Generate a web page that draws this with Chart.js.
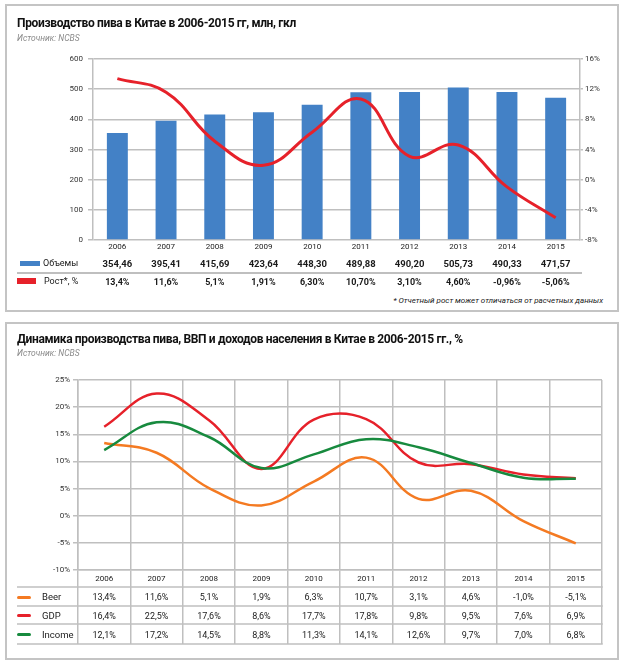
<!DOCTYPE html>
<html><head><meta charset="utf-8">
<script src="https://cdn.jsdelivr.net/npm/chart.js@4.4.1/dist/chart.umd.min.js"></script>
<style>
html,body{margin:0;padding:0;background:#fff;}
body{width:627px;height:668px;position:relative;overflow:hidden;font-family:Roboto,'Noto Sans',sans-serif;color:#1a1a1a;}
.panel{position:absolute;border:2px solid #c4c4c4;box-sizing:border-box;}
.t{position:absolute;white-space:nowrap;line-height:1;z-index:2;}
.title{font-weight:bold;font-size:12px;letter-spacing:-0.35px;color:#111;}
.src{font-style:italic;font-size:8.5px;color:#8a8a8a;}
.val{font-size:9px;color:#1a1a1a;}
.b{font-weight:bold;}
.lab{font-size:9px;color:#1a1a1a;}
.sw{position:absolute;z-index:2;}
canvas{position:absolute;left:0;}
</style></head><body>
<div class="panel" style="left:5px;top:4px;width:614px;height:308px"></div>
<div class="panel" style="left:5px;top:322px;width:614px;height:338px"></div>
<canvas id="c1" width="627" height="290" style="top:0px"></canvas>
<canvas id="c2" width="627" height="320" style="top:330px"></canvas>
<script>
// ---- data ----
const years = ['2006','2007','2008','2009','2010','2011','2012','2013','2014','2015'];
const volumes = [354.46, 395.41, 415.69, 423.64, 448.30, 489.88, 490.20, 505.73, 490.33, 471.57];
const growth = [13.4, 11.6, 5.1, 1.91, 6.30, 10.70, 3.10, 4.60, -0.96, -5.06];
const growthDecimals = [1, 1, 1, 2, 2, 2, 2, 2, 2, 2];
const beer = [13.4, 11.6, 5.1, 1.9, 6.3, 10.7, 3.1, 4.6, -1.0, -5.1];
const gdp = [16.4, 22.5, 17.6, 8.6, 17.7, 17.8, 9.8, 9.5, 7.6, 6.9];
const income = [12.1, 17.2, 14.5, 8.8, 11.3, 14.1, 12.6, 9.7, 7.0, 6.8];

const C_BLUE = '#4381c6', C_RED = '#e6212a', C_ORANGE = '#f47a22', C_GREEN = '#178a3e', C_GRID = '#bfbfbf';

Chart.defaults.font.family = 'Roboto, "Noto Sans", sans-serif';
Chart.defaults.font.size = 8;
Chart.defaults.color = '#333';

function text(str, x, y, cls, align, extraStyle) {
  const d = document.createElement('div');
  d.className = 't ' + (cls || '');
  d.textContent = str;
  const tx = align === 'center' ? '-50%' : (align === 'right' ? '-100%' : '0');
  d.style.left = x + 'px';
  d.style.top = y + 'px';
  d.style.transform = 'translate(' + tx + ',-50%)';
  if (extraStyle) d.style.cssText += extraStyle;
  document.body.appendChild(d);
  return d;
}
function swatch(x, y, w, h, color, radius) {
  const d = document.createElement('div');
  d.className = 'sw';
  d.style.cssText += `left:${x}px;top:${y - h / 2}px;width:${w}px;height:${h}px;background:${color};border-radius:${radius || 0}px;`;
  document.body.appendChild(d);
}
const fmt = (v, d) => v.toFixed(d).replace('.', ',');

// titles
text('Производство пива в Китае в 2006-2015 гг, млн, гкл', 17, 23, 'title', 'left');
text('Источник: NCBS', 17, 38, 'src', 'left');
text('Динамика производства пива, ВВП и доходов населения в Китае в 2006-2015 гг., %', 17, 339, 'title', 'left');
text('Источник: NCBS', 17, 353, 'src', 'left');
text('* Отчетный рост может отличаться от расчетных данных', 603, 301, 'src', 'right', 'color:#222;font-size:8px;');

// ---- chart 1 ----
const sepPlugin = {
  id: 'sep1',
  afterDraw(chart) {
    const { ctx, chartArea: a } = chart;
    ctx.save();
    ctx.strokeStyle = C_GRID; ctx.lineWidth = 2;
    ctx.beginPath(); ctx.moveTo(17, 273); ctx.lineTo(a.right + 2, 273); ctx.stroke();
    ctx.restore();
  }
};
const ch1 = new Chart(document.getElementById('c1'), {
  data: {
    labels: years,
    datasets: [
      { type: 'line', data: growth, yAxisID: 'y1', borderColor: C_RED, borderWidth: 3, tension: 0.42, pointRadius: 0, order: 0 },
      { type: 'bar', data: volumes, yAxisID: 'y', backgroundColor: C_BLUE, barPercentage: 0.43, categoryPercentage: 1, order: 1 }
    ]
  },
  options: {
    responsive: false, animation: false,
    layout: { padding: { top: 59, left: 0, right: 0, bottom: 0 } },
    plugins: { legend: { display: false }, tooltip: { enabled: false } },
    scales: {
      x: { offset: true, grid: { display: false, drawTicks: false }, border: { display: false },
           ticks: { padding: 2, color: '#222', font: { size: 8 } }, afterFit(s) { s.height = 50; } },
      y: { position: 'left', min: 0, max: 600, ticks: { stepSize: 100, padding: 5 },
           grid: { color: C_GRID, lineWidth: 1.5, tickLength: 5 }, border: { color: C_GRID, width: 1.5 },
           afterFit(s) { s.width = 93; } },
      y1: { position: 'right', min: -8, max: 16, ticks: { stepSize: 4, callback: v => v + '%', padding: 2 },
            grid: { drawOnChartArea: false, color: C_GRID, lineWidth: 1.5, tickLength: 3 }, border: { color: C_GRID, width: 1.5 },
            afterFit(s) { s.width = 47; } }
    }
  },
  plugins: [sepPlugin]
});
// table 1
swatch(20, 263, 20, 5, C_BLUE);
text('Объемы', 43, 263, 'lab', 'left');
swatch(17, 281, 19, 6, C_RED);
text('Рост*, %', 44, 281, 'lab', 'left');
volumes.forEach((v, i) => {
  const x = ch1.scales.x.getPixelForValue(i);
  text(fmt(v, 2), x, 264, 'val b', 'center', 'font-size:9.5px;');
});
growth.forEach((v, i) => {
  const x = ch1.scales.x.getPixelForValue(i);
  text(fmt(v, growthDecimals[i]) + '%', x, 282, 'val b', 'center', 'font-size:9px;');
});

// ---- chart 2 ----
const rowPlugin = {
  id: 'rows2',
  afterDraw(chart) {
    const { ctx, chartArea: a } = chart;
    ctx.save();
    ctx.strokeStyle = C_GRID; ctx.lineWidth = 1.5;
    [17, 36, 54, 74].forEach(d => {
      ctx.beginPath(); ctx.moveTo(17, a.bottom + d); ctx.lineTo(a.right + 0.75, a.bottom + d); ctx.stroke();
    });
    ctx.restore();
  }
};
const ch2 = new Chart(document.getElementById('c2'), {
  type: 'line',
  data: {
    labels: years,
    datasets: [
      { label: 'Beer', data: beer, borderColor: C_ORANGE, borderWidth: 2.5, tension: 0.4, pointRadius: 0, order: 3 },
      { label: 'GDP', data: gdp, borderColor: C_RED, borderWidth: 2.5, tension: 0.4, pointRadius: 0, order: 2 },
      { label: 'Income', data: income, borderColor: C_GREEN, borderWidth: 2.5, tension: 0.4, pointRadius: 0, order: 1 }
    ]
  },
  options: {
    responsive: false, animation: false,
    layout: { padding: { top: 50, left: 0, right: 25, bottom: 0 } },
    plugins: { legend: { display: false }, tooltip: { enabled: false } },
    scales: {
      x: { offset: true, grid: { offset: true, color: C_GRID, lineWidth: 1.5, tickLength: 74 },
           border: { color: C_GRID, width: 1.5 }, ticks: { display: false }, afterFit(s) { s.height = 80; } },
      y: { min: -10, max: 25, ticks: { stepSize: 5, callback: v => v + '%', padding: 3 },
           grid: { color: C_GRID, lineWidth: 1.5, tickLength: 5 }, border: { color: C_GRID, width: 1.5 },
           afterFit(s) { s.width = 78; } }
    }
  },
  plugins: [rowPlugin]
});
// table 2
const top2 = 330;
const ca2 = ch2.chartArea;
const rowY = [ca2.bottom + 9, ca2.bottom + 27, ca2.bottom + 45.5, ca2.bottom + 64.5].map(v => v + top2);
years.forEach((y, i) => text(y, ch2.scales.x.getPixelForValue(i), rowY[0], 'val', 'center', 'font-size:8px;'));
const series2 = [['Beer', beer, C_ORANGE], ['GDP', gdp, C_RED], ['Income', income, C_GREEN]];
series2.forEach(([name, arr, col], r) => {
  const y = rowY[r + 1];
  swatch(17, y, 14, 3, col, 2);
  text(name, 42, y, 'lab', 'left', 'font-size:9.5px;');
  arr.forEach((v, i) => text(fmt(v, 1) + '%', ch2.scales.x.getPixelForValue(i), y, 'val', 'center', 'font-size:9px;'));
});
</script>
</body></html>
